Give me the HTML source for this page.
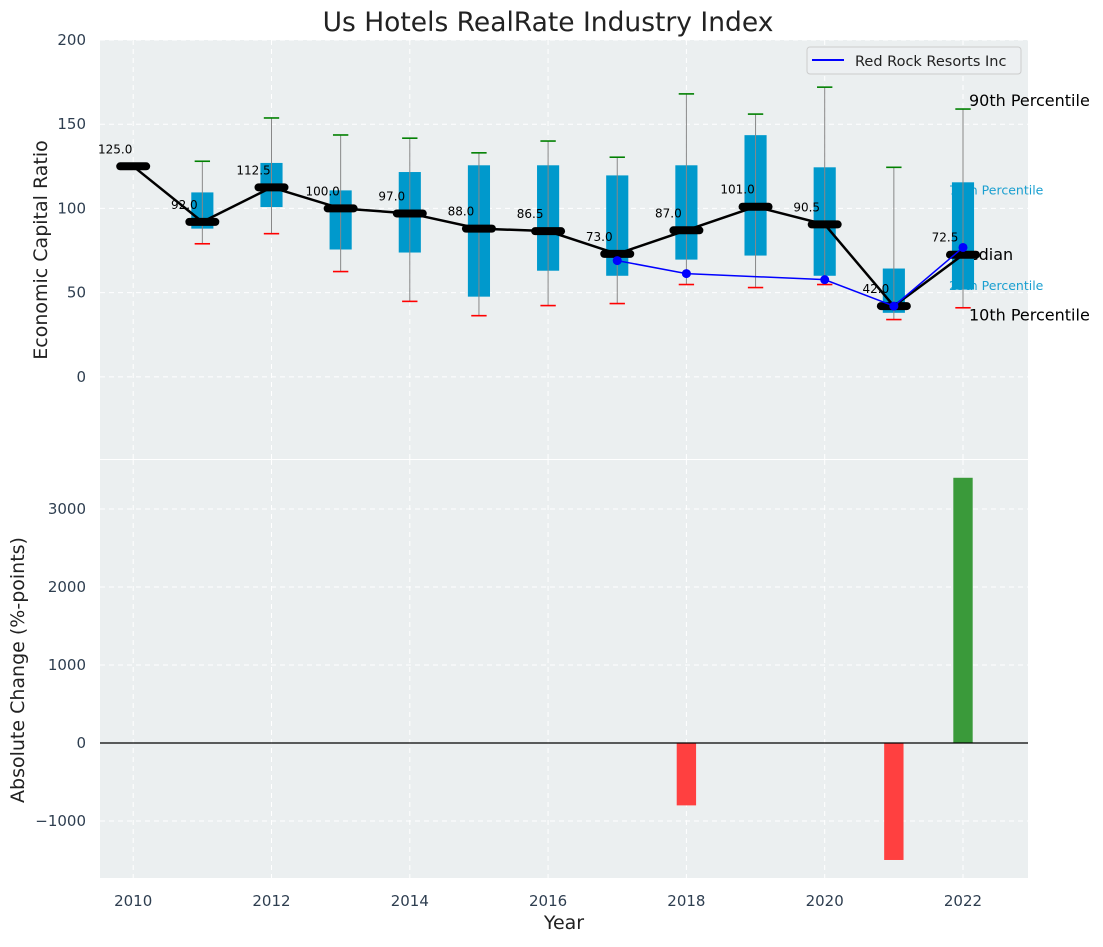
<!DOCTYPE html>
<html><head><meta charset="utf-8"><style>
body{margin:0;background:#fff;font-family:"Liberation Sans","DejaVu Sans",sans-serif}
svg text{font-family:"DejaVu Sans","Liberation Sans",sans-serif}
</style></head><body>
<svg id="c" width="1103" height="942" xmlns="http://www.w3.org/2000/svg"></svg>
<script>
const years=[2010,2011,2012,2013,2014,2015,2016,2017,2018,2019,2020,2021,2022];
const medians=[125,92,112.5,100,97,88,86.5,73,87,101,90.5,42,72.5];
const q1=[null,88,100.8,75.6,73.8,47.6,63,60,69.6,72,60,38,51.8];
const q3=[null,109.5,127,110.7,121.6,125.6,125.6,119.6,125.6,143.5,124.4,64.3,115.5];
const p10=[null,79,85,62.5,44.8,36.3,42.3,43.5,54.8,53,54.8,34,41];
const p90=[null,128,153.7,143.6,141.7,133,140,130.4,168,156,172,124.4,159];
const compYears=[2017,2018,2020,2021,2022];
const compVals=[69,61.3,57.7,42,76.8];
const changeYears=[2018,2021,2022];
const changeVals=[-800,-1500,3400];
const yTicksTop=[0,50,100,150,200];
const yTicksBot=[-1000,0,1000,2000,3000];
const xTicks=[2010,2012,2014,2016,2018,2020,2022];

const svg=document.getElementById('c');const NS='http://www.w3.org/2000/svg';
function el(t,a,p){const e=document.createElementNS(NS,t);for(const k in a)e.setAttribute(k,a[k]);(p||svg).appendChild(e);return e;}
const L=100,R=1028,T1=40,B1=459,T2=460,B2=878;
const X=v=>L+(v-2009.52)/(2022.94-2009.52)*(R-L);
const Y1=v=>T1+(200-v)/(200-(-48.8))*(B1-T1);
const Y2=v=>T2+(3628-v)/(3628+1731)*(B2-T2);
let e=el('rect',{x:L,y:T1,width:R-L,height:B1-T1,fill:'#ebeff0'});
e=el('rect',{x:L,y:T2,width:R-L,height:B2-T2,fill:'#ebeff0'});
const grid={stroke:'#fff','stroke-dasharray':'5,4','stroke-width':1};
xTicks.forEach(v=>{el('line',Object.assign({x1:X(v),x2:X(v),y1:T1,y2:B1},grid));el('line',Object.assign({x1:X(v),x2:X(v),y1:T2,y2:B2},grid));
 const t=el('text',{x:X(v),y:906,'text-anchor':'middle','font-size':15,fill:'#2e3e50'});t.textContent=v;});
yTicksTop.forEach(v=>{el('line',Object.assign({x1:L,x2:R,y1:Y1(v),y2:Y1(v)},grid));const t=el('text',{x:86,y:Y1(v)+5,'text-anchor':'end','font-size':15,fill:'#2e3e50'});t.textContent=v;});
yTicksBot.forEach(v=>{el('line',Object.assign({x1:L,x2:R,y1:Y2(v),y2:Y2(v)},grid));const t=el('text',{x:86,y:Y2(v)+5,'text-anchor':'end','font-size':15,fill:'#2e3e50'});t.textContent=v<0?'\u2212'+(-v):v;});
const li=years.length-1,xr=X(2022)+6;
[['90th Percentile',p90[li]+6,16,'#000',xr],['75th Percentile',q3[li]-4,12.5,'#1a9fd0',X(2022)-14],['Median',medians[li]+1,16,'#000',X(2022)-8],['25th Percentile',q1[li]+3,12.5,'#1a9fd0',X(2022)-14],['10th Percentile',p10[li]-3.5,16,'#000',xr]].forEach(a=>{
 const t=el('text',{x:a[4],y:Y1(a[1])+a[2]/2-1,'font-size':a[2],fill:a[3]});t.textContent=a[0];});
const bw=X(0.32)-X(0),cw=X(0.28)-X(0);
years.forEach((y,i)=>{if(q1[i]==null)return;const x=X(y);
 let r=el('rect',{x:x-bw/2,y:Y1(q3[i]),width:bw,height:Y1(q1[i])-Y1(q3[i]),fill:'#0099cc'});
 let w=el('line',{x1:x,x2:x,y1:Y1(p90[i]),y2:Y1(p10[i]),stroke:'#888','stroke-width':1});
 let g=el('line',{x1:x-cw/2+2,x2:x+cw/2-2,y1:Y1(p90[i]),y2:Y1(p90[i]),stroke:'green','stroke-width':1.6});
 let rd=el('line',{x1:x-cw/2+2,x2:x+cw/2-2,y1:Y1(p10[i]),y2:Y1(p10[i]),stroke:'red','stroke-width':1.6});
});
let p=el('polyline',{points:years.map((y,i)=>X(y)+','+Y1(medians[i])).join(' '),fill:'none',stroke:'#000','stroke-width':2.5});
years.forEach((y,i)=>{const x=X(y),yy=Y1(medians[i]);
 let m=el('line',{x1:x-13,x2:x+13,y1:yy,y2:yy,stroke:'#000','stroke-width':8,'stroke-linecap':'round'});
 let t=el('text',{x:x-18,y:yy-13,'text-anchor':'middle','font-size':12,fill:'#000'});t.textContent=medians[i].toFixed(1);});
p=el('polyline',{points:compYears.map((y,i)=>X(y)+','+Y1(compVals[i])).join(' '),fill:'none',stroke:'#0000ff','stroke-width':1.5});
compYears.forEach((y,i)=>{const c=el('circle',{cx:X(y),cy:Y1(compVals[i]),r:4.5,fill:'#0000ff'});});
let lg=el('g',{});
el('rect',{x:807,y:47,width:214,height:27,rx:3,fill:'#edf0f2',stroke:'#ccc'},lg);
el('line',{x1:812,x2:844,y1:60,y2:60,stroke:'#0000ff','stroke-width':2},lg);
let lt=el('text',{x:855,y:66,'font-size':14.5,fill:'#222'},lg);lt.textContent='Red Rock Resorts Inc';
const barw=X(0.28)-X(0);
changeYears.forEach((y,i)=>{const v=changeVals[i];const b=el('rect',{x:X(y)-barw/2,y:Math.min(Y2(v),Y2(0)),width:barw,height:Math.abs(Y2(v)-Y2(0)),fill:v<0?'#ff4040':'#3a9a3a'});});
el('line',{x1:L,x2:R,y1:Y2(0),y2:Y2(0),stroke:'#000','stroke-width':1.3});
let t=el('text',{x:548,y:31,'text-anchor':'middle','font-size':26.5,fill:'#222'});t.textContent='Us Hotels RealRate Industry Index';
t=el('text',{x:564,y:929,'text-anchor':'middle','font-size':19,fill:'#222'});t.textContent='Year';
t=el('text',{x:47,y:250,'text-anchor':'middle','font-size':19,fill:'#222',transform:'rotate(-90 47 250)'});t.textContent='Economic Capital Ratio';
t=el('text',{x:24,y:670,'text-anchor':'middle','font-size':19,fill:'#222',transform:'rotate(-90 24 670)'});t.textContent='Absolute Change (%-points)';
</script>
</body></html>
